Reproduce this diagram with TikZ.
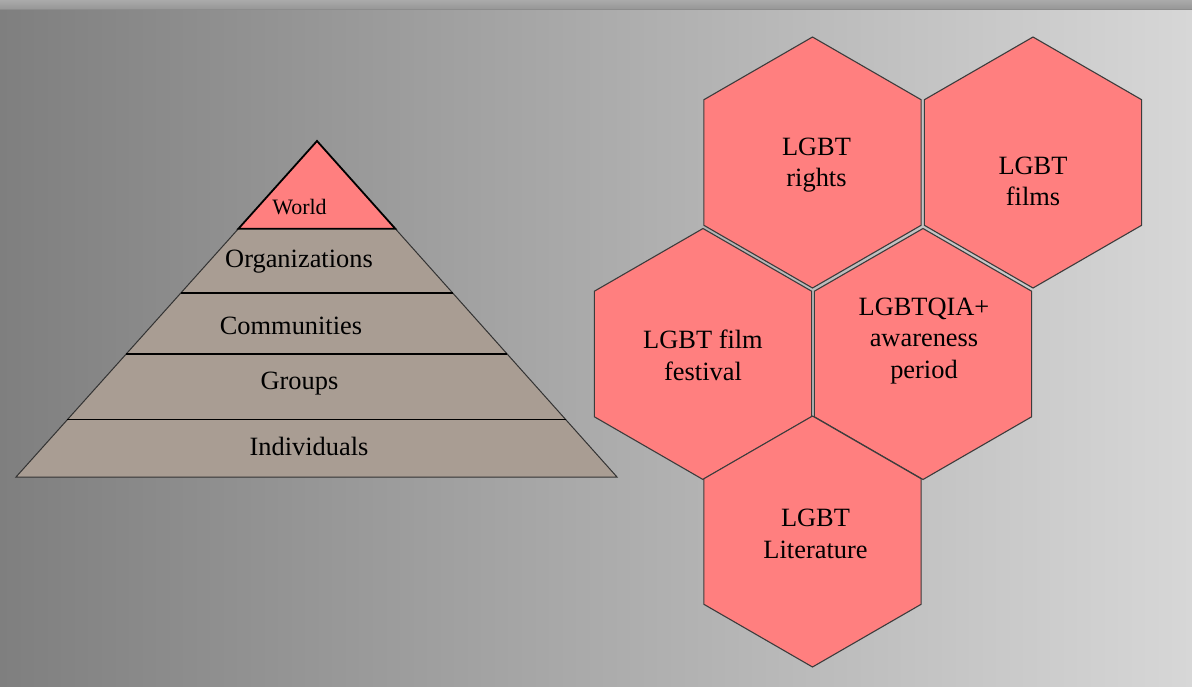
\documentclass[tikz,border=0pt]{standalone}
\usepackage{fontspec}
\setmainfont{Liberation Serif}
\usepackage{xcolor}
\definecolor{BgDark}{RGB}{127, 127, 127}
\definecolor{BgLight}{RGB}{215, 215, 215}
\definecolor{BandTop}{RGB}{170, 170, 170}
\definecolor{BandLow}{RGB}{150, 150, 150}
\definecolor{HexPink}{RGB}{255, 127, 127}
\definecolor{HexEdge}{RGB}{60, 60, 60}
\definecolor{Stone}{RGB}{169, 157, 147}
\usepackage{tikz}
\usetikzlibrary{shapes.geometric, calc, positioning}

\begin{document}
\begin{tikzpicture}[
        x=1pt, y=-1pt,
        hexa/.style={regular polygon, regular polygon sides=6, shape border rotate=30, minimum size=251pt, inner sep=0pt, draw=HexEdge, line width=1.1pt, fill=HexPink},
        hexlabel/.style={align=center, inner sep=0pt, font=\fontsize{26.4}{31.7}\selectfont},
        tier/.style={inner sep=0pt, font=\fontsize{26.4}{31.7}\selectfont},
        divider/.style={line width=1.4pt, color=black},
        edge/.style={line width=1pt, color=black!80}
    ]
        % --- BACKGROUND ---
        \useasboundingbox (0,0) rectangle (1192,686);
        \shade[left color=BgDark, right color=BgLight] (0,0) rectangle (1192,686);
        \shade[top color=BandTop, bottom color=BandLow] (0,0) rectangle (1192,9.5);
        \draw[line width=0.8pt, color=black!45] (0,9.5) -- (1192,9.5);

        % --- PYRAMID ---
        \coordinate (apex) at (317,141);
        \coordinate (baseL) at (16,477);
        \coordinate (baseR) at (617,477);
        \coordinate (wL) at ($(apex)!0.261!(baseL)$);
        \coordinate (wR) at ($(apex)!0.261!(baseR)$);
        \coordinate (oL) at ($(apex)!0.4524!(baseL)$);
        \coordinate (oR) at ($(apex)!0.4524!(baseR)$);
        \coordinate (cL) at ($(apex)!0.6339!(baseL)$);
        \coordinate (cR) at ($(apex)!0.6339!(baseR)$);
        \coordinate (gL) at ($(apex)!0.829!(baseL)$);
        \coordinate (gR) at ($(apex)!0.829!(baseR)$);

        \fill[Stone] (wL) -- (wR) -- (baseR) -- (baseL) -- cycle;
        \draw[edge] (wL) -- (baseL) -- (baseR) -- (wR);
        \draw[divider] (oL) -- (oR);
        \draw[divider] (cL) -- (cR);
        \draw[divider] (gL) -- (gR);
        \filldraw[fill=HexPink, draw=black, line width=1.8pt, line join=miter] (apex) -- (wR) -- (wL) -- cycle;

        \node[tier, font=\fontsize{22}{26}\selectfont] (world) at (299.5,207) {World};
        \node[tier] (orgs) at (299,262) {Organizations};
        \node[tier] (comm) at (291,325.5) {Communities};
        \node[tier] (grps) at (299.5,384) {Groups};
        \node[tier] (indv) at (309,446) {Individuals};

        % --- HEXAGONS ---
        \node[hexa] (hA) at (812.5,162.5) {};
        \node[hexa] (hB) at ([xshift=220.5pt]hA.center) {};
        \node[hexa] (hC) at ([xshift=-109.5pt, yshift=-191.5pt]hA.center) {};
        \node[hexa] (hD) at ([xshift=220pt]hC.center) {};
        \node[hexa] (hE) at ([yshift=-379pt]hA.center) {};

        \node[hexlabel] (tA) at ([xshift=4pt, yshift=-2.5pt]hA.center) {LGBT\\rights};
        \node[hexlabel] (tB) at ([yshift=-19pt]hB.center) {LGBT\\films};
        \node[hexlabel] (tC) at ([yshift=-1pt]hC.center) {LGBT film\\festival};
        \node[hexlabel] (tD) at ([xshift=1pt, yshift=13pt]hD.center) {LGBTQIA+\\awareness\\period};
        \node[hexlabel] (tE) at ([xshift=3pt, yshift=7.5pt]hE.center) {LGBT\\Literature};

    \end{tikzpicture}
\end{document}
